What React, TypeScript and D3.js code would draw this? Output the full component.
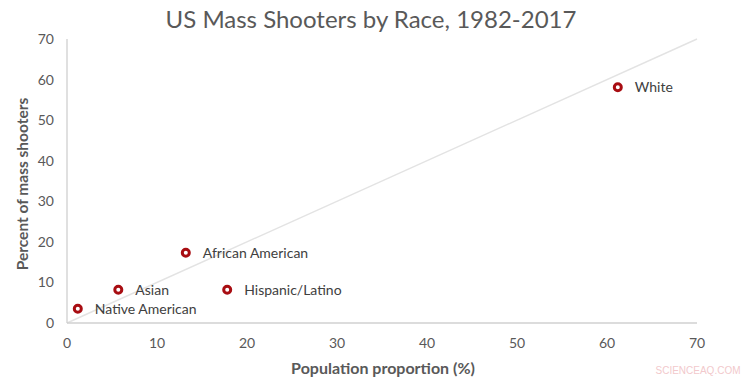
import React from "react";
import * as d3 from "d3";

const groups = ["Native American", "Asian", "African American", "Hispanic/Latino", "White"];
const populationPct = [1.2, 5.7, 13.2, 17.8, 61.2];
const shooterPct = [3.5, 8.2, 17.3, 8.2, 58.1];
const xTicks = [0, 10, 20, 30, 40, 50, 60, 70];
const yTicks = [0, 10, 20, 30, 40, 50, 60, 70];

const W = 754, H = 381;
const FONT = "Lato, 'Open Sans', sans-serif";

export default function App() {
  const x = d3.scaleLinear().domain([0, 70]).range([67, 697]);
  const y = d3.scaleLinear().domain([0, 70]).range([323, 39]);
  const ring = d3.arc()({ innerRadius: 2, outerRadius: 5, startAngle: 0, endAngle: 2 * Math.PI }) as string;
  return (
    <svg width={W} height={H} style={{ position: "absolute", left: 0, top: 0, background: "#fff" }}>
      <text x={371} y={28} textAnchor="middle" fontFamily={FONT} fontSize={24} fill="#595959">
        US Mass Shooters by Race, 1982-2017
      </text>
      <line x1={x(0)} y1={y(0)} x2={x(70)} y2={y(70)} stroke="#e3e3e3" strokeWidth={1.5} />
      <line x1={x(0)} y1={y(0)} x2={x(70)} y2={y(0)} stroke="#d0d0d0" strokeWidth={1.3} />
      <line x1={x(0)} y1={y(0)} x2={x(0)} y2={y(70)} stroke="#d0d0d0" strokeWidth={1.3} />
      {yTicks.map((t) => (
        <text key={"y" + t} x={54} y={y(t) + 5} textAnchor="end" fontFamily={FONT} fontSize={14} fill="#595959">
          {t}
        </text>
      ))}
      {xTicks.map((t) => (
        <text key={"x" + t} x={x(t)} y={348} textAnchor="middle" fontFamily={FONT} fontSize={14} fill="#595959">
          {t}
        </text>
      ))}
      <text x={383} y={374} textAnchor="middle" fontFamily={FONT} fontSize={16} fontWeight="bold" fill="#595959">
        Population proportion (%)
      </text>
      <text transform={`translate(28,184) rotate(-90)`} textAnchor="middle" fontFamily={FONT} fontSize={15.5} fontWeight="bold" fill="#595959">
        Percent of mass shooters
      </text>
      {groups.map((g, i) => (
        <g key={g}>
          <path d={ring} transform={`translate(${x(populationPct[i])},${y(shooterPct[i])})`} fill="#a80d12" />
          <text x={x(populationPct[i]) + 17} y={y(shooterPct[i]) + 5} fontFamily={FONT} fontSize={14} fill="#404040">
            {g}
          </text>
        </g>
      ))}
      <text x={698} y={374} textAnchor="middle" fontFamily="'Liberation Sans', Arial, sans-serif" fontSize={10} fill="#f2c9cc">
        SCIENCEAQ.COM
      </text>
    </svg>
  );
}
